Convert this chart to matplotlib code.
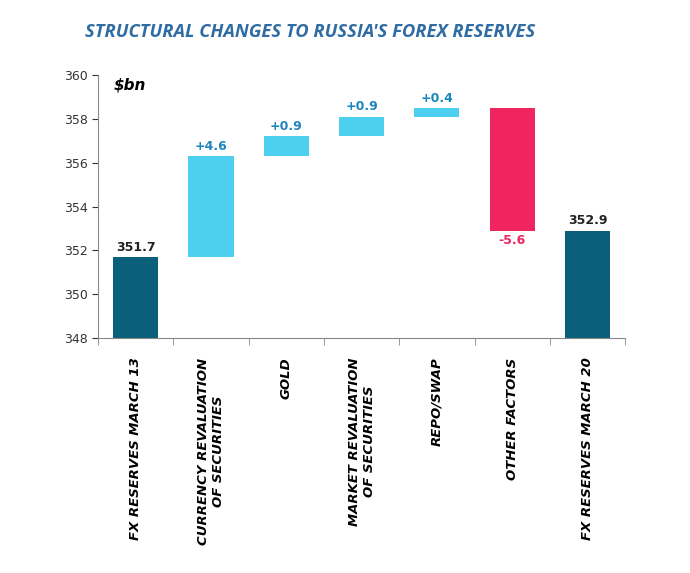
import matplotlib
matplotlib.use("Agg")
import matplotlib.pyplot as plt
import numpy as np

categories = ["FX RESERVES MARCH 13", "CURRENCY REVALUATION\nOF SECURITIES", "GOLD",
              "MARKET REVALUATION\nOF SECURITIES", "REPO/SWAP", "OTHER FACTORS", "FX RESERVES MARCH 20"]
start_value = 351.7
changes = [4.6, 0.9, 0.9, 0.4, -5.6]
end_value = 352.9
yticks = [348, 350, 352, 354, 356, 358, 360]

fig = plt.figure(figsize=(6.9, 5.73), dpi=100)
ax = fig.add_axes([0.142, 0.41, 0.764, 0.459])
x = np.arange(len(categories))
dark, light, red = "#0A5F7A", "#4DCFF0", "#F0245F"
w = 0.6
ymin = 348
ax.bar(x[0], start_value - ymin, bottom=ymin, width=w, color=dark)
ax.text(x[0], start_value + 0.15, f"{start_value:.1f}", ha="center", va="bottom", fontsize=9, fontweight="bold", color="#222222")
level = start_value
for i, c in enumerate(changes, start=1):
    lo, hi = min(level, level + c), max(level, level + c)
    col = light if c > 0 else red
    ax.bar(x[i], hi - lo, bottom=lo, width=w, color=col)
    if c > 0:
        ax.text(x[i], hi + 0.15, f"+{c:.1f}", ha="center", va="bottom", fontsize=9, fontweight="bold", color="#1E86BE")
    else:
        ax.text(x[i], lo - 0.15, f"{c:.1f}", ha="center", va="top", fontsize=9, fontweight="bold", color=red)
    level += c
ax.bar(x[6], end_value - ymin, bottom=ymin, width=w, color=dark)
ax.text(x[6], end_value + 0.15, f"{end_value:.1f}", ha="center", va="bottom", fontsize=9, fontweight="bold", color="#222222")

ax.set_ylim(348, 360)
ax.set_xlim(-0.5, 6.5)
ax.set_yticks(yticks)
ax.tick_params(axis="y", labelsize=9, colors="#333333", length=4)
ax.set_xticks(x)
ax.set_xticklabels(categories, rotation=90, fontsize=9.5, fontstyle="italic", fontweight="bold", ha="center", va="top")
ax.tick_params(axis="x", length=0, pad=14)
ax.set_xticks(np.arange(-0.5, 7, 1), minor=True)
ax.tick_params(axis="x", which="minor", length=5, color="#888888")
for s in ["top", "right"]:
    ax.spines[s].set_visible(False)
for s in ["left", "bottom"]:
    ax.spines[s].set_color("#888888")
ax.text(0.03, 0.99, "$bn", transform=ax.transAxes, fontsize=11, fontweight="bold", fontstyle="italic", va="top")
fig.text(0.123, 0.935, "STRUCTURAL CHANGES TO RUSSIA'S FOREX RESERVES", fontsize=13.2, fontweight="bold",
         fontstyle="italic", color="#2F6CA3", family="Open Sans")
fig.savefig("out.png", dpi=100)
